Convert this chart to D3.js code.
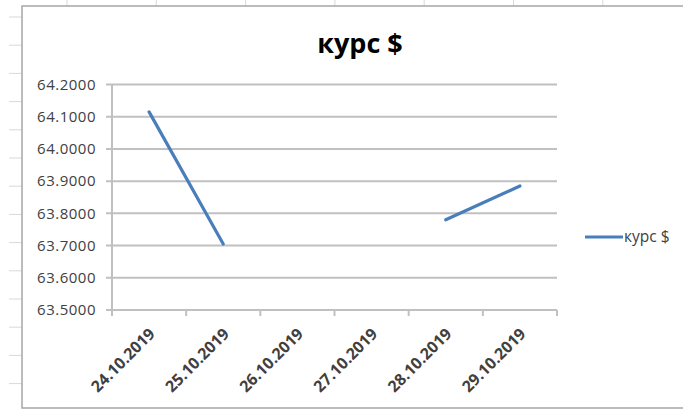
<!DOCTYPE html>
<html>
<head>
<meta charset="utf-8">
<script src="https://cdn.jsdelivr.net/npm/d3@7"></script>
<style>
  body { margin: 0; background: #fff; }
  svg { display: block; font-family: "Open Sans", sans-serif; }
</style>
</head>
<body>
<svg id="chart" width="683" height="411"></svg>
<script>
var dates = ["24.10.2019", "25.10.2019", "26.10.2019", "27.10.2019", "28.10.2019", "29.10.2019"];
var rates = [64.115, 63.705, null, null, 63.78, 63.885];
var yTicks = [63.5, 63.6, 63.7, 63.8, 63.9, 64.0, 64.1, 64.2];
var seriesName = "курс $";

var svg = d3.select("#chart");

// spreadsheet gridlines peeking out around the chart
var sheetCols = d3.range(67, 683, 89.3);
var sheetRows = d3.range(17, 411, 28.2);
svg.selectAll(".scol").data(sheetCols).enter().append("line")
  .attr("x1", function(d){ return d; }).attr("x2", function(d){ return d; })
  .attr("y1", 0).attr("y2", 6)
  .attr("stroke", "#d9d9d9");
svg.selectAll(".srow").data(sheetRows).enter().append("line")
  .attr("x1", 9).attr("x2", 22)
  .attr("y1", function(d){ return d; }).attr("y2", function(d){ return d; })
  .attr("stroke", "#d9d9d9");

// chart frame
svg.append("rect")
  .attr("x", 22).attr("y", 6)
  .attr("width", 700).attr("height", 402)
  .attr("fill", "#fff")
  .attr("stroke", "#a6a6a6")
  .attr("stroke-width", 1.5);

var x = d3.scaleBand().domain(dates).range([112, 557]).padding(0);
var y = d3.scaleLinear().domain([63.5, 64.2]).range([310, 84.5]);

// gridlines
svg.selectAll(".grid").data(yTicks).enter().append("line")
  .attr("x1", 106).attr("x2", 557)
  .attr("y1", function(d){ return y(d); })
  .attr("y2", function(d){ return y(d); })
  .attr("stroke", "#c0c0c0")
  .attr("stroke-width", 2);

// y axis line
svg.append("line")
  .attr("x1", 112).attr("x2", 112)
  .attr("y1", y(64.2)).attr("y2", y(63.5))
  .attr("stroke", "#c0c0c0").attr("stroke-width", 2);

svg.selectAll(".ylab").data(yTicks).enter().append("text")
  .attr("x", 96)
  .attr("y", function(d){ return y(d); })
  .attr("dy", "0.35em")
  .attr("text-anchor", "end")
  .attr("font-size", 15)
  .attr("letter-spacing", 0.5)
  .attr("fill", "#404040")
  .text(function(d){ return d3.format(".4f")(d); });

// x axis ticks between categories
var edges = dates.map(function(d){ return x(d); }).concat([x.range()[1]]);
svg.selectAll(".xtick").data(edges).enter().append("line")
  .attr("x1", function(d){ return d; }).attr("x2", function(d){ return d; })
  .attr("y1", 310).attr("y2", 316)
  .attr("stroke", "#c0c0c0").attr("stroke-width", 2);

svg.selectAll(".xlab").data(dates).enter().append("text")
  .attr("transform", function(d){
    return "translate(" + (x(d) + x.bandwidth() / 2 - 1) + ",327) rotate(-45)";
  })
  .attr("text-anchor", "end")
  .attr("dy", "0.7em")
  .attr("font-size", 16)
  .attr("font-weight", "bold")
  .attr("fill", "#404040")
  .text(function(d){ return d; });

// series line (gaps where there is no value)
var pts = dates.map(function(d, i){ return { date: d, value: rates[i] }; });
var line = d3.line()
  .defined(function(d){ return d.value !== null; })
  .x(function(d){ return x(d.date) + x.bandwidth() / 2; })
  .y(function(d){ return y(d.value); });

svg.append("path")
  .datum(pts)
  .attr("d", line)
  .attr("fill", "none")
  .attr("stroke", "#4a7ebb")
  .attr("stroke-width", 3.2)
  .attr("stroke-linecap", "round");

// title
svg.append("text")
  .attr("x", 360).attr("y", 53)
  .attr("text-anchor", "middle")
  .attr("font-size", 27)
  .attr("font-weight", "bold")
  .attr("fill", "#000")
  .text(seriesName);

// legend
svg.append("line")
  .attr("x1", 585).attr("x2", 623)
  .attr("y1", 237).attr("y2", 237)
  .attr("stroke", "#4a7ebb").attr("stroke-width", 3.2);
svg.append("text")
  .attr("x", 624).attr("y", 237)
  .attr("dy", "0.35em")
  .attr("font-size", 15.5)
  .attr("fill", "#404040")
  .text(seriesName);
</script>
</body>
</html>
